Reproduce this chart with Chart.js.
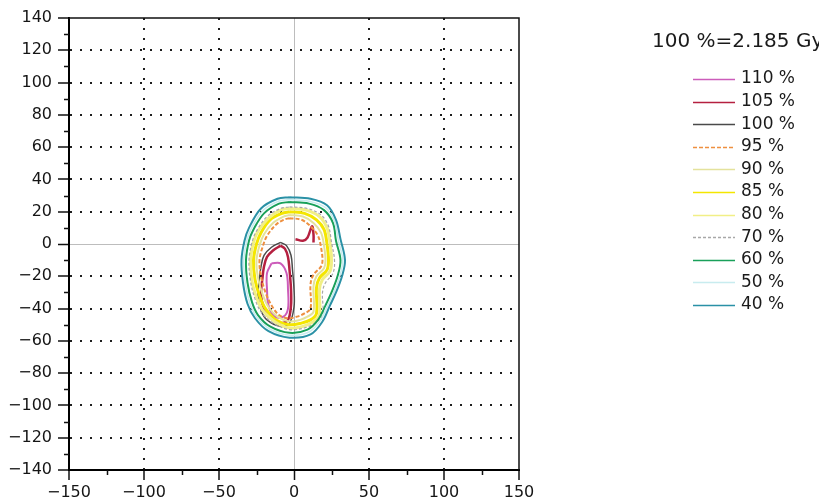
<!DOCTYPE html>
<html>
<head>
<meta charset="utf-8">
<script src="https://cdn.jsdelivr.net/npm/chart.js@4.4.1/dist/chart.umd.min.js"></script>
<style>
  html, body { margin: 0; padding: 0; background: #fff; }
</style>
</head>
<body>
<canvas id="isoChart" width="819" height="503"></canvas>
<script>
// ===============================
// DATA (x, y in mm)
// ===============================
const levels = ['110 %', '105 %', '100 %', '95 %', '90 %', '85 %', '80 %', '70 %', '60 %', '50 %', '40 %'];
const normText = '100 %=2.185 Gy';

const xTicks = [-150, -100, -50, 0, 50, 100, 150];
const yTicks = [-140, -120, -100, -80, -60, -40, -20, 0, 20, 40, 60, 80, 100, 120, 140];
const xMinor = [-125, -75, -25, 25, 75, 125];
const yMinor = [-130, -110, -90, -70, -50, -30, -10, 10, 30, 50, 70, 90, 110, 130];

const iso40 = [[-3,29],[11,28],[22,24],[28,15],[31,3],[34,-10],[32,-20],[28,-30],[24,-38],[19,-48],[11,-56],[-3,-58],[-17,-54],[-26,-46],[-31,-37],[-34,-24],[-35,-10],[-33,2],[-30,10],[-22,22],[-11,28],[-3,29]];
const iso50 = [[-3,27.5],[10,26.5],[21,22.5],[27,14],[29.5,2.5],[32.5,-10],[30.5,-20],[26.5,-30],[22.5,-38],[17.5,-47.5],[10,-54.5],[-3,-56.5],[-16.5,-52.5],[-25,-45],[-29.5,-36.5],[-32.5,-24],[-33.5,-10],[-31.5,2],[-28.5,9.5],[-21,20.5],[-10.5,26.5],[-3,27.5]];
const iso60 = [[-3,26],[10,25],[20,21],[26,13],[28,2],[31,-10],[29,-20],[25,-30],[21,-38],[16,-47],[9,-53],[-3,-55],[-16,-51],[-24,-44],[-28,-36],[-31,-24],[-32,-10],[-30,2],[-27,9],[-20,19],[-10,25],[-3,26]];
const iso70 = [[-3,23],[9,22],[18,18],[23,11],[25,1],[27,-10],[26,-18],[21,-24],[19,-30],[19,-44],[14,-49],[7,-52],[-3,-53],[-14,-49],[-22,-42],[-26,-34],[-29,-23],[-30,-10],[-28,1],[-25,8],[-18,17],[-9,22],[-3,23]];
const iso80 = [[-3,22],[8,21],[17,17],[22,10],[24,1],[25,-10],[24,-17],[19,-22],[17,-28],[17,-44],[13,-48],[6,-51],[-3,-52],[-13,-48],[-21,-41],[-25,-33],[-28,-23],[-29,-10],[-27,1],[-24,8],[-17,16],[-9,21],[-3,22]];
const iso85 = [[-3,20],[7,19],[15,15],[20,9],[22,0],[23,-10],[22,-16],[17,-21],[15,-27],[15,-43],[11,-47],[5,-49],[-3,-50],[-12,-47],[-19,-40],[-23,-32],[-26,-22],[-27,-10],[-25,0],[-22,7],[-16,15],[-8,19],[-3,20]];
const iso90 = [[-3,18],[6,17],[13,13],[18,7],[20,-1],[21,-10],[20,-15],[15,-20],[13,-26],[13,-42],[9,-45],[4,-47],[-3,-48],[-11,-45],[-17,-39],[-21,-31],[-24,-21],[-25,-10],[-23,-1],[-20,6],[-14,13],[-7,17],[-3,18]];
const iso95 = [[-3,16],[5,15],[11,11],[16,5],[18,-2],[19,-10],[18,-14],[13,-19],[11,-25],[11,-40],[7,-43],[2,-45],[-4,-46],[-10,-44],[-15,-38],[-19,-30],[-22,-20],[-23,-10],[-21,-2],[-18,5],[-12,12],[-7,15],[-3,16]];
const iso100 = [[-9,1],[-15,-2],[-20,-7],[-22,-14],[-23,-21],[-24,-32],[-22,-41],[-18,-47],[-9,-51],[-3,-49],[0,-39],[0,-28],[-1,-16],[-2,-7],[-5,-1],[-9,1]];
const iso105 = [[-9,-1],[-14,-4],[-18,-8],[-20,-14],[-21,-21],[-22,-32],[-20,-40],[-17,-45],[-9,-49],[-4,-47],[-2,-38],[-2,-28],[-3,-16],[-4,-8],[-6,-3],[-9,-1]];
const iso105b = [[1,3],[6,2],[9,4],[12,11],[13,6],[13,1]];
const iso110 = [[-15,-12],[-9,-12],[-5,-18],[-4,-28],[-4,-40],[-7,-45],[-13,-45],[-17,-38],[-18,-28],[-18,-18],[-15,-12]];

// ===============================
// STYLES
// ===============================
const styles = {
  '110 %': { color: '#cc5cba', dash: [], width: 2 },
  '105 %': { color: '#b52040', dash: [], width: 2.5 },
  '100 %': { color: '#4a4a4a', dash: [], width: 1.5 },
  '95 %':  { color: '#ee9040', dash: [4, 2], width: 2 },
  '90 %':  { color: '#e4e29c', dash: [], width: 2 },
  '85 %':  { color: '#f4e600', dash: [], width: 3 },
  '80 %':  { color: '#f1ef86', dash: [], width: 3 },
  '70 %':  { color: '#a8a8a8', dash: [3, 2], width: 1.2 },
  '60 %':  { color: '#19a05a', dash: [], width: 2 },
  '50 %':  { color: '#c8ecef', dash: [], width: 1.5 },
  '40 %':  { color: '#2a91a6', dash: [], width: 2 }
};

const contours = [
  ['40 %', iso40], ['50 %', iso50], ['60 %', iso60], ['70 %', iso70],
  ['80 %', iso80], ['85 %', iso85], ['90 %', iso90], ['95 %', iso95],
  ['100 %', iso100], ['105 %', iso105], ['105 %', iso105b], ['110 %', iso110]
];

const datasets = contours.map(([label, pts]) => ({
  label,
  data: pts,
  showLine: true,
  borderColor: styles[label].color,
  borderWidth: styles[label].width,
  borderDash: styles[label].dash,
  pointRadius: 0,
  fill: false,
  tension: 0.35
}));

// ===============================
// PLUGINS
// ===============================
const frameAndMinor = {
  id: 'frameAndMinor',
  afterDraw(chart) {
    const { ctx, chartArea: a, scales: { x, y } } = chart;
    ctx.save();
    ctx.strokeStyle = '#111';
    ctx.lineWidth = 1.5;
    ctx.beginPath();
    ctx.moveTo(a.left, a.top);
    ctx.lineTo(a.right, a.top);
    ctx.lineTo(a.right, a.bottom);
    ctx.stroke();

    ctx.beginPath();
    xMinor.forEach(v => {
      const px = Math.round(x.getPixelForValue(v)) + 0.5;
      ctx.moveTo(px, a.bottom);
      ctx.lineTo(px, a.bottom + 5);
    });
    yMinor.forEach(v => {
      const py = Math.round(y.getPixelForValue(v)) + 0.5;
      ctx.moveTo(a.left - 5, py);
      ctx.lineTo(a.left, py);
    });
    ctx.stroke();
    ctx.restore();
  }
};

const sideLegend = {
  id: 'sideLegend',
  afterDraw(chart) {
    const { ctx } = chart;
    ctx.save();
    ctx.fillStyle = '#1a1a1a';
    ctx.textBaseline = 'middle';
    ctx.font = '20px "DejaVu Sans"';
    ctx.fillText(normText, 652, 42);

    ctx.font = '17px "DejaVu Sans"';
    levels.forEach((label, i) => {
      const yy = 79 + i * 22.6;
      const s = styles[label];
      ctx.strokeStyle = s.color;
      ctx.lineWidth = 1.5;
      ctx.setLineDash(s.dash);
      ctx.beginPath();
      ctx.moveTo(693, Math.round(yy) + 0.5);
      ctx.lineTo(735, Math.round(yy) + 0.5);
      ctx.stroke();
      ctx.setLineDash([]);
      ctx.fillText(label, 741, yy);
    });
    ctx.restore();
  }
};

// ===============================
// CHART
// ===============================
const tickFont = { family: '"DejaVu Sans"', size: 16 };
const minusSign = v => String(v).replace('-', '\u2212');

function gridColor(ctx, edges) {
  const v = ctx.tick ? ctx.tick.value : null;
  if (v === 0) return '#bdbdbd';
  if (edges.includes(v)) return 'rgba(0,0,0,0)';
  return '#1e1e1e';
}

new Chart(document.getElementById('isoChart'), {
  type: 'scatter',
  data: { datasets },
  options: {
    responsive: false,
    animation: false,
    events: [],
    layout: { padding: { top: 18, right: 300, left: 0, bottom: 0 } },
    plugins: { legend: { display: false }, tooltip: { enabled: false } },
    scales: {
      x: {
        type: 'linear',
        min: -150,
        max: 150,
        afterBuildTicks: s => { s.ticks = xTicks.map(v => ({ value: v })); },
        afterFit: s => { s.height = 33; },
        ticks: { font: tickFont, color: '#151515', padding: 3, maxRotation: 0, callback: minusSign },
        grid: {
          color: c => gridColor(c, [-150, 150]),
          lineWidth: c => (c.tick && c.tick.value === 0 ? 1 : 2),
          tickColor: '#111',
          tickWidth: 1.5,
          tickLength: 10
        },
        border: {
          display: true,
          color: '#000',
          width: 2,
          dash: c => (c.tick && c.tick.value !== 0 ? [2, 8] : [])
        }
      },
      y: {
        type: 'linear',
        min: -140,
        max: 140,
        afterBuildTicks: s => { s.ticks = yTicks.map(v => ({ value: v })); },
        afterFit: s => { s.width = 69; },
        ticks: { font: tickFont, color: '#151515', padding: 6, callback: minusSign },
        grid: {
          color: c => gridColor(c, [-140, 140]),
          lineWidth: c => (c.tick && c.tick.value === 0 ? 1 : 2),
          tickColor: '#111',
          tickWidth: 1.5,
          tickLength: 11
        },
        border: {
          display: true,
          color: '#000',
          width: 2,
          dash: c => (c.tick && c.tick.value !== 0 ? [2, 8] : [])
        }
      }
    }
  },
  plugins: [frameAndMinor, sideLegend]
});
</script>
</body>
</html>
